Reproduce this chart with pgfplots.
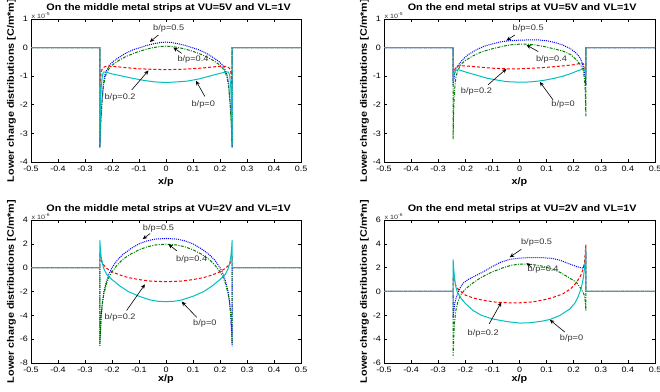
\documentclass[border=0pt]{standalone}
\usepackage{fontspec}
\setmainfont{Liberation Sans}[FakeStretch=1.15]
\usepackage{pgfplots}
\pgfplotsset{compat=1.18}
\usetikzlibrary{arrows.meta}
\definecolor{mblue}{rgb}{0,0,1}
\definecolor{mgreen}{rgb}{0,0.5,0}
\definecolor{mred}{rgb}{1,0,0}
\definecolor{mcyan}{rgb}{0,0.75,0.75}
\definecolor{txt}{rgb}{0.2,0.2,0.2}
\tikzset{
 s05/.style={mblue, line width=1pt, dash pattern=on 1pt off 1pt},
 s04/.style={mgreen, line width=1pt, dash pattern=on 3pt off 1.3pt on 1pt off 1.3pt},
 s02/.style={mred, line width=1pt, dash pattern=on 3pt off 2pt},
 s00/.style={mcyan, line width=1pt},
 ann/.style={-{Stealth[length=4.5pt,width=4pt]}, black, line width=0.6pt},
 lab/.style={font=\fontsize{8}{9}\selectfont, text=txt, inner sep=1pt},
 expo/.style={anchor=south west, inner sep=0.5pt, font=\fontsize{6.2}{7}\selectfont, text=txt},
}
\pgfplotsset{
 panel/.style={scale only axis, height=143pt, xmin=-0.5, xmax=0.5,
  xtick={-0.5,-0.4,-0.3,-0.2,-0.1,0,0.1,0.2,0.3,0.4,0.5},
  xticklabels={-0.5,-0.4,-0.3,-0.2,-0.1,0,0.1,0.2,0.3,0.4,0.5},
  tick align=inside, major tick length=3pt,
  tick style={black, line width=0.6pt},
  axis line style={line width=0.9pt},
  /pgf/number format/assume math mode=true,
  ticklabel style={font=\fontsize{7.8}{8.5}\selectfont},
  xticklabel style={yshift=-0.8pt},
  yticklabel style={xshift=0.5pt},
  xlabel={x/p}, ylabel={Lower charge distributions [C/m*m]},
  every axis y label/.style={at={(axis description cs:-0.072,0.5)}, rotate=90, anchor=center, font=\bfseries\fontsize{9.4}{10}\selectfont},
  every axis x label/.style={at={(axis description cs:0.5,-0.143)}, anchor=center, font=\bfseries\fontsize{9.4}{10}\selectfont},
  every axis title/.style={at={(axis description cs:0.51,1.077)}, anchor=center, font=\bfseries\fontsize{9.4}{10}\selectfont},
  clip mode=individual},
}
\begin{document}
\begin{tikzpicture}[x=1pt,y=1pt]
\path[use as bounding box] (0,0) rectangle (660,391);

% ---------------- top left ----------------
\begin{axis}[panel, at={(31pt,229pt)}, anchor=south west, width=270pt,
  ymin=-4, ymax=1, ytick={-4,-3,-2,-1,0,1}, yticklabels={-4,-3,-2,-1,0,1},
  title={On the middle metal strips at VU=5V and VL=1V}]
\addplot[s05] coordinates {(-0.5,0)(-0.245,0)(-0.245,-3.5)(-0.242,-2.6)(-0.238,-2.0)(-0.232,-1.25)(-0.226,-0.95)(-0.22,-0.8)(-0.21,-0.62)(-0.195,-0.48)(-0.175,-0.35)(-0.15,-0.2)(-0.12,-0.07)(-0.096,0.0)(-0.07,0.08)(-0.047,0.13)(-0.02,0.18)(0,0.19)(0.02,0.18)(0.047,0.13)(0.07,0.08)(0.096,0.0)(0.12,-0.07)(0.15,-0.2)(0.175,-0.35)(0.195,-0.48)(0.21,-0.62)(0.22,-0.8)(0.226,-0.95)(0.232,-1.25)(0.238,-2.0)(0.242,-2.6)(0.245,-3.5)(0.245,0)(0.5,0)};
\addplot[s04] coordinates {(-0.5,0)(-0.245,0)(-0.245,-3.45)(-0.242,-2.7)(-0.238,-2.05)(-0.232,-1.35)(-0.226,-1.05)(-0.22,-0.88)(-0.21,-0.72)(-0.195,-0.58)(-0.175,-0.45)(-0.15,-0.32)(-0.12,-0.2)(-0.096,-0.12)(-0.07,-0.05)(-0.047,0.0)(-0.02,0.04)(0,0.05)(0.02,0.04)(0.047,0.0)(0.07,-0.05)(0.096,-0.12)(0.12,-0.2)(0.15,-0.32)(0.175,-0.45)(0.195,-0.58)(0.21,-0.72)(0.22,-0.88)(0.226,-1.05)(0.232,-1.35)(0.238,-2.05)(0.242,-2.7)(0.245,-3.45)(0.245,0)(0.5,0)};
\addplot[s02] coordinates {(-0.5,0)(-0.245,0)(-0.245,-1.4)(-0.24,-0.85)(-0.235,-0.72)(-0.225,-0.66)(-0.21,-0.65)(-0.19,-0.66)(-0.15,-0.7)(-0.1,-0.74)(-0.05,-0.76)(0,-0.77)(0.05,-0.76)(0.1,-0.74)(0.15,-0.7)(0.19,-0.66)(0.21,-0.65)(0.225,-0.66)(0.235,-0.72)(0.24,-0.85)(0.245,-1.4)(0.245,0)(0.5,0)};
\addplot[s00] coordinates {(-0.5,0)(-0.245,0)(-0.245,-3.4)(-0.243,-2.2)(-0.24,-1.4)(-0.236,-1.0)(-0.232,-0.86)(-0.225,-0.85)(-0.2,-0.92)(-0.15,-1.02)(-0.12,-1.08)(-0.08,-1.15)(-0.04,-1.2)(0,-1.22)(0.04,-1.2)(0.08,-1.17)(0.12,-1.1)(0.16,-1.0)(0.2,-0.9)(0.225,-0.85)(0.232,-0.86)(0.236,-1.0)(0.24,-1.4)(0.243,-2.2)(0.245,-3.4)(0.245,0)(0.5,0)};
\draw[ann] (axis cs:-0.028,0.44) -- (axis cs:-0.06,0.2);
\node[lab] at (axis cs:0.01,0.68) {b/p=0.5};
\draw[ann] (axis cs:0.058,-0.2) -- (axis cs:0.027,0.0);
\node[lab] at (axis cs:0.10,-0.41) {b/p=0.4};
\draw[ann] (axis cs:-0.127,-1.48) -- (axis cs:-0.065,-0.8);
\node[lab] at (axis cs:-0.17,-1.75) {b/p=0.2};
\draw[ann] (axis cs:0.144,-1.71) -- (axis cs:0.111,-1.16);
\node[lab] at (axis cs:0.138,-1.98) {b/p=0};
\node[expo] at (axis description cs:0,1.0) {x 10\textsuperscript{-5}};
\end{axis}

% ---------------- top right ----------------
\begin{axis}[panel, at={(384pt,229pt)}, anchor=south west, width=271pt,
  ymin=-4, ymax=1, ytick={-4,-3,-2,-1,0,1}, yticklabels={-4,-3,-2,-1,0,1},
  title={On the end metal strips at VU=5V and VL=1V}]
\addplot[s05] coordinates {(-0.5,0)(-0.245,0)(-0.245,-1.3)(-0.24,-0.95)(-0.235,-0.75)(-0.225,-0.6)(-0.21,-0.42)(-0.19,-0.25)(-0.16,-0.08)(-0.13,0.05)(-0.1,0.13)(-0.07,0.2)(-0.04,0.24)(0,0.26)(0.04,0.27)(0.07,0.27)(0.1,0.24)(0.13,0.18)(0.16,0.09)(0.19,-0.05)(0.21,-0.2)(0.225,-0.38)(0.235,-0.66)(0.242,-1.0)(0.245,-1.3)(0.245,0)(0.5,0)};
\addplot[s04] coordinates {(-0.5,0)(-0.245,0)(-0.245,-3.2)(-0.243,-2.2)(-0.24,-1.5)(-0.235,-1.05)(-0.228,-0.8)(-0.215,-0.58)(-0.2,-0.45)(-0.17,-0.28)(-0.14,-0.15)(-0.1,-0.04)(-0.06,0.05)(-0.03,0.1)(0,0.12)(0.03,0.12)(0.06,0.09)(0.1,0.02)(0.13,-0.05)(0.16,-0.12)(0.19,-0.25)(0.21,-0.43)(0.225,-0.6)(0.235,-0.8)(0.24,-1.1)(0.243,-1.6)(0.245,-2.4)(0.245,0)(0.5,0)};
\addplot[s02] coordinates {(-0.5,0)(-0.245,0)(-0.245,-1.2)(-0.24,-0.8)(-0.235,-0.68)(-0.225,-0.64)(-0.2,-0.64)(-0.15,-0.68)(-0.1,-0.72)(-0.05,-0.74)(0,-0.74)(0.05,-0.72)(0.1,-0.69)(0.16,-0.64)(0.2,-0.6)(0.22,-0.56)(0.235,-0.56)(0.24,-0.62)(0.245,-0.9)(0.245,0)(0.5,0)};
\addplot[s00] coordinates {(-0.5,0)(-0.245,0)(-0.245,-1.2)(-0.242,-0.95)(-0.238,-0.82)(-0.232,-0.78)(-0.223,-0.78)(-0.2,-0.85)(-0.16,-0.96)(-0.12,-1.07)(-0.08,-1.14)(-0.048,-1.19)(0,-1.21)(0.04,-1.2)(0.087,-1.15)(0.13,-1.07)(0.16,-1.0)(0.186,-0.92)(0.21,-0.83)(0.23,-0.76)(0.238,-0.76)(0.243,-0.85)(0.245,-1.0)(0.245,0)(0.5,0)};
\draw[ann] (axis cs:-0.017,0.44) -- (axis cs:-0.048,0.25);
\node[lab] at (axis cs:0.032,0.67) {b/p=0.5};
\draw[ann] (axis cs:0.069,-0.14) -- (axis cs:0.026,0.09);
\node[lab] at (axis cs:0.118,-0.41) {b/p=0.4};
\draw[ann] (axis cs:-0.116,-1.3) -- (axis cs:-0.048,-0.74);
\node[lab] at (axis cs:-0.159,-1.53) {b/p=0.2};
\draw[ann] (axis cs:0.124,-1.83) -- (axis cs:0.075,-1.2);
\node[lab] at (axis cs:0.161,-2.0) {b/p=0};
\node[expo] at (axis description cs:0,1.0) {x 10\textsuperscript{-5}};
\end{axis}

% ---------------- bottom left ----------------
\begin{axis}[panel, at={(31pt,28pt)}, anchor=south west, width=270pt,
  ymin=-8, ymax=4, ytick={-8,-6,-4,-2,0,2,4}, yticklabels={-8,-6,-4,-2,0,2,4},
  every axis x label/.style={at={(axis description cs:0.5,-0.11)}, anchor=center, font=\bfseries\fontsize{9.4}{10}\selectfont},
  title={On the middle metal strips at VU=2V and VL=1V}]
\addplot[s05] coordinates {(-0.5,0)(-0.245,0)(-0.245,-6.6)(-0.243,-5.5)(-0.24,-4.0)(-0.235,-2.8)(-0.23,-2.0)(-0.22,-1.1)(-0.21,-0.45)(-0.2,0.0)(-0.18,0.65)(-0.16,1.1)(-0.13,1.6)(-0.1,2.0)(-0.07,2.25)(-0.04,2.4)(0,2.45)(0.04,2.4)(0.07,2.25)(0.1,2.0)(0.13,1.6)(0.16,1.1)(0.18,0.65)(0.2,0.0)(0.21,-0.45)(0.22,-1.1)(0.23,-2.0)(0.235,-2.8)(0.24,-4.0)(0.243,-5.5)(0.245,-6.6)(0.245,0)(0.5,0)};
\addplot[s04] coordinates {(-0.5,0)(-0.245,0)(-0.245,-6.4)(-0.243,-5.3)(-0.24,-4.0)(-0.235,-2.9)(-0.23,-2.2)(-0.22,-1.3)(-0.21,-0.75)(-0.2,-0.35)(-0.18,0.25)(-0.16,0.7)(-0.13,1.15)(-0.1,1.5)(-0.07,1.75)(-0.04,1.9)(0,1.97)(0.04,1.9)(0.07,1.75)(0.1,1.5)(0.13,1.15)(0.16,0.7)(0.18,0.25)(0.2,-0.35)(0.21,-0.75)(0.22,-1.3)(0.23,-2.2)(0.235,-2.9)(0.24,-4.0)(0.243,-5.3)(0.245,-6.4)(0.245,0)(0.5,0)};
\addplot[s02] coordinates {(-0.5,0)(-0.245,0)(-0.245,1.0)(-0.242,0.75)(-0.238,0.5)(-0.23,0.2)(-0.22,-0.05)(-0.2,-0.35)(-0.17,-0.62)(-0.14,-0.83)(-0.1,-1.0)(-0.06,-1.12)(0,-1.18)(0.06,-1.12)(0.1,-1.0)(0.14,-0.83)(0.17,-0.62)(0.2,-0.35)(0.22,-0.05)(0.23,0.15)(0.238,0.4)(0.242,0.55)(0.245,0.75)(0.245,0)(0.5,0)};
\addplot[s00] coordinates {(-0.5,0)(-0.245,0)(-0.245,2.3)(-0.243,1.6)(-0.24,0.9)(-0.235,0.3)(-0.23,-0.1)(-0.22,-0.55)(-0.2,-1.0)(-0.17,-1.55)(-0.14,-2.0)(-0.1,-2.4)(-0.06,-2.7)(-0.03,-2.82)(0,-2.85)(0.03,-2.82)(0.06,-2.7)(0.1,-2.4)(0.14,-2.0)(0.17,-1.55)(0.2,-1.0)(0.22,-0.55)(0.23,-0.1)(0.235,0.3)(0.24,0.9)(0.243,1.6)(0.245,2.3)(0.245,0)(0.5,0)};
\draw[ann] (axis cs:-0.059,2.86) -- (axis cs:-0.086,2.4);
\node[lab] at (axis cs:-0.028,3.28) {b/p=0.5};
\draw[ann] (axis cs:0.04,1.41) -- (axis cs:0.009,1.97);
\node[lab] at (axis cs:0.095,0.71) {b/p=0.4};
\draw[ann] (axis cs:-0.146,-3.6) -- (axis cs:-0.078,-1.4);
\node[lab] at (axis cs:-0.17,-4.17) {b/p=0.2};
\draw[ann] (axis cs:0.114,-4.17) -- (axis cs:0.058,-2.85);
\node[lab] at (axis cs:0.144,-4.67) {b/p=0};
\node[expo] at (axis description cs:0,1.0) {x 10\textsuperscript{-6}};
\end{axis}

% ---------------- bottom right ----------------
\begin{axis}[panel, at={(384pt,28pt)}, anchor=south west, width=271pt,
  ymin=-6, ymax=6, ytick={-6,-4,-2,0,2,4,6}, yticklabels={-6,-4,-2,0,2,4,6},
  every axis x label/.style={at={(axis description cs:0.5,-0.11)}, anchor=center, font=\bfseries\fontsize{9.4}{10}\selectfont},
  title={On the end metal strips at VU=2V and VL=1V}]
\addplot[s05] coordinates {(-0.5,0)(-0.245,0)(-0.245,-2.2)(-0.242,-1.5)(-0.238,-0.9)(-0.232,-0.4)(-0.227,-0.1)(-0.218,0.35)(-0.208,0.7)(-0.19,1.0)(-0.16,1.35)(-0.134,1.65)(-0.1,2.1)(-0.07,2.45)(-0.036,2.7)(0,2.8)(0.038,2.85)(0.08,2.85)(0.12,2.78)(0.15,2.62)(0.186,2.3)(0.21,2.1)(0.235,1.95)(0.242,2.3)(0.245,3.2)(0.245,0)(0.5,0)};
\addplot[s04] coordinates {(-0.5,0)(-0.245,0)(-0.245,-5.4)(-0.243,-4.0)(-0.24,-2.6)(-0.235,-1.6)(-0.228,-0.9)(-0.218,-0.3)(-0.2,0.2)(-0.17,0.75)(-0.14,1.2)(-0.1,1.65)(-0.06,2.0)(-0.03,2.2)(0,2.3)(0.038,2.3)(0.08,2.15)(0.12,1.9)(0.15,1.6)(0.18,1.2)(0.21,0.77)(0.225,0.3)(0.235,-0.1)(0.24,-0.35)(0.243,-0.9)(0.245,-1.6)(0.245,0)(0.5,0)};
\addplot[s02] coordinates {(-0.5,0)(-0.245,0)(-0.245,1.2)(-0.24,0.8)(-0.235,0.5)(-0.225,0.15)(-0.2,-0.3)(-0.17,-0.55)(-0.13,-0.75)(-0.085,-0.9)(-0.04,-0.95)(0,-0.95)(0.05,-0.87)(0.1,-0.65)(0.13,-0.45)(0.16,-0.2)(0.19,0.25)(0.21,0.75)(0.225,1.3)(0.235,1.9)(0.24,2.5)(0.245,3.95)(0.245,0)(0.5,0)};
\addplot[s00] coordinates {(-0.5,0)(-0.245,0)(-0.245,2.7)(-0.243,2.0)(-0.24,1.2)(-0.235,0.4)(-0.23,0.0)(-0.22,-0.45)(-0.2,-1.0)(-0.171,-1.6)(-0.14,-2.0)(-0.1,-2.3)(-0.048,-2.52)(0,-2.65)(0.04,-2.62)(0.08,-2.5)(0.112,-2.35)(0.15,-2.0)(0.186,-1.46)(0.205,-0.95)(0.217,-0.4)(0.228,0.3)(0.236,1.2)(0.242,2.4)(0.245,3.6)(0.245,0)(0.5,0)};
\draw[ann] (axis cs:0.007,3.55) -- (axis cs:-0.036,2.87);
\node[lab] at (axis cs:0.063,4.1) {b/p=0.5};
\draw[ann] (axis cs:0.044,2.05) -- (axis cs:0.026,2.38);
\node[lab] at (axis cs:0.087,1.88) {b/p=0.4};
\draw[ann] (axis cs:-0.112,-2.72) -- (axis cs:-0.067,-0.9);
\node[lab] at (axis cs:-0.134,-3.56) {b/p=0.2};
\draw[ann] (axis cs:0.167,-3.4) -- (axis cs:0.112,-2.38);
\node[lab] at (axis cs:0.192,-3.97) {b/p=0};
\node[expo] at (axis description cs:0,1.0) {x 10\textsuperscript{-6}};
\end{axis}
\end{tikzpicture}
\end{document}
